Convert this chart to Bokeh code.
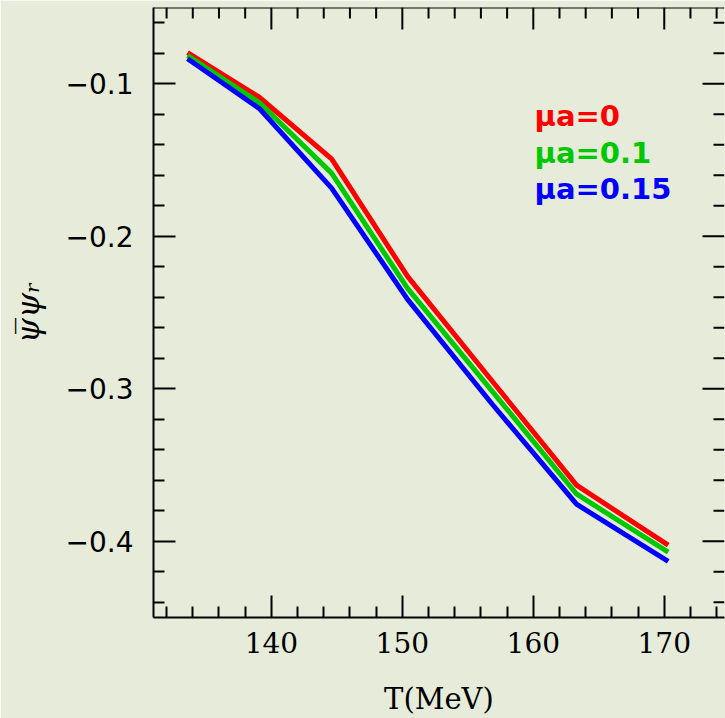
import math
from bokeh.plotting import figure
from bokeh.models import Range1d, FixedTicker, Label, Span
from bokeh.embed import file_html
from bokeh.resources import INLINE

# Data
T = [133.6, 139.1, 144.6, 150.4, 156.9, 163.3, 170.3]
pbp_mu0 = [-0.0796, -0.1090, -0.1493, -0.2263, -0.2954, -0.3632, -0.4026]
pbp_mu01 = [-0.0815, -0.1125, -0.1586, -0.2342, -0.3020, -0.3690, -0.4072]
pbp_mu015 = [-0.0836, -0.1164, -0.1684, -0.2414, -0.3105, -0.3757, -0.4132]

series_labels = ["\u03bca=0", "\u03bca=0.1", "\u03bca=0.15"]
series_colors = ["#ff0000", "#00c800", "#0000ff"]

x_ticks = [140, 150, 160, 170]
x_minor = [132, 134, 136, 138, 142, 144, 146, 148, 152, 154, 156, 158,
           162, 164, 166, 168, 172, 174]
y_ticks = [-0.4, -0.3, -0.2, -0.1]
y_tick_labels = ["\u22120.4", "\u22120.3", "\u22120.2", "\u22120.1"]
y_minor = [-0.44, -0.42, -0.38, -0.36, -0.34, -0.32, -0.28, -0.26, -0.24,
           -0.22, -0.18, -0.16, -0.14, -0.12, -0.08, -0.06]

BG = "#e6ecd9"
X0, X1 = 131, 174.6
Y0, Y1 = -0.45, -0.05

p = figure(width=725, height=718, output_backend="svg", toolbar_location=None,
           x_range=Range1d(X0, X1), y_range=Range1d(Y0, Y1),
           min_border_left=153, min_border_right=1, min_border_top=7,
           min_border_bottom=100)
p.background_fill_color = BG
p.border_fill_color = BG
p.outline_line_color = None
p.xgrid.visible = False
p.ygrid.visible = False

xt = FixedTicker(ticks=x_ticks, minor_ticks=x_minor)
yt = FixedTicker(ticks=y_ticks, minor_ticks=y_minor)

def style(ax, ticker):
    ax.ticker = ticker
    ax.major_tick_in = 22
    ax.major_tick_out = 0
    ax.minor_tick_in = 11
    ax.minor_tick_out = 0
    ax.major_tick_line_width = 2
    ax.minor_tick_line_width = 2
    ax.major_tick_line_color = "black"
    ax.minor_tick_line_color = "black"
    ax.axis_line_width = 2
    ax.axis_line_color = "black"

xa = p.xaxis[0]
style(xa, xt)
xa.major_label_text_font = "DejaVu Serif"
xa.major_label_text_font_size = "28px"
xa.major_label_text_color = "black"
xa.major_label_standoff = 14
xa.axis_label = "T(MeV)"
xa.axis_label_text_font = "DejaVu Serif"
xa.axis_label_text_font_style = "normal"
xa.axis_label_text_font_size = "29px"
xa.axis_label_text_color = "black"
xa.axis_label_standoff = 26

ya = p.yaxis[0]
style(ya, yt)
ya.major_label_overrides = {t: l for t, l in zip(y_ticks, y_tick_labels)}
ya.major_label_text_font = "DejaVu Sans"
ya.major_label_text_font_size = "28px"
ya.major_label_text_color = "black"
ya.major_label_standoff = 20
ya.axis_label = "\u03c8\u0305\u03c8\u1d63"
ya.axis_label_text_font = "DejaVu Serif"
ya.axis_label_text_font_style = "italic"
ya.axis_label_text_font_size = "32px"
ya.axis_label_text_color = "black"
ya.axis_label_standoff = 16

# top frame line and mirrored ticks (top and right), no labels
p.add_layout(Span(location=Y1, dimension="width", line_color="black", line_width=2))
p.ray(x=x_ticks, y=[Y1] * len(x_ticks), length=22, length_units="screen",
      angle=-math.pi / 2, line_color="black", line_width=2)
p.ray(x=x_minor, y=[Y1] * len(x_minor), length=11, length_units="screen",
      angle=-math.pi / 2, line_color="black", line_width=2)
p.ray(x=[X1] * len(y_ticks), y=y_ticks, length=22, length_units="screen",
      angle=math.pi, line_color="black", line_width=2)
p.ray(x=[X1] * len(y_minor), y=y_minor, length=11, length_units="screen",
      angle=math.pi, line_color="black", line_width=2)

for ys, c in zip([pbp_mu0, pbp_mu01, pbp_mu015], series_colors):
    p.line(T, ys, line_color=c, line_width=5)

label_y = [-0.121, -0.1454, -0.169]
for txt, c, yy in zip(series_labels, series_colors, label_y):
    p.add_layout(Label(x=160.1, y=yy, text=txt, text_color=c,
                       text_font="DejaVu Sans", text_font_style="bold",
                       text_font_size="29px", text_baseline="alphabetic"))

open("out.html", "w").write(file_html(p, INLINE))
